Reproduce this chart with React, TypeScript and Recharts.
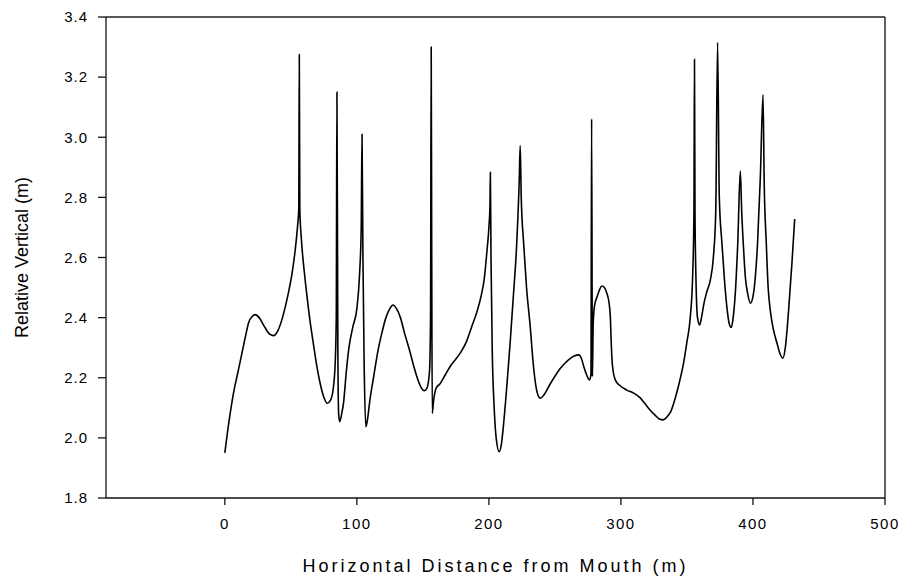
import React from 'react';
import { LineChart, Line, XAxis, YAxis, ReferenceLine, Label } from 'recharts';

// distance from mouth (m) and relative vertical (m)
const distance = [
  0, 3, 6.6, 10, 12.9, 16, 18, 21, 23, 26, 30, 34, 37, 40, 43, 46, 48.5, 51, 53.3, 55,
  56.0, 56.4, 56.8, 58, 60, 62, 64.5, 67, 70, 72.5, 75, 77.5, 80, 82, 83.6, 84.4, 84.9, 85.6, 86.2, 87,
  88.5, 90, 92, 94, 97, 100, 102, 103.3, 103.9, 104.6, 105.5, 106.8, 108, 110, 112.6, 116, 119, 122, 125, 127.3,
  130, 133, 136, 140, 143, 146.5, 149, 151, 153, 155, 155.8, 156.3, 156.7, 157.1, 158, 160, 163, 167, 171, 178,
  183, 187, 191, 194, 196.5, 198.5, 200, 200.8, 201.1, 201.6, 202.5, 204, 205.5, 207.8, 209.5, 211, 213, 216, 218.5, 221,
  223, 223.7, 224.5, 226.3, 228.5, 231.3, 233.5, 235.5, 238, 239, 242, 246.5, 250, 254, 258, 262, 265, 268, 270, 272,
  274, 276, 277.3, 277.8, 278.4, 279, 280, 282, 284, 285.6, 287.5, 289.4, 291, 292, 292.8, 293.6, 295.7, 299, 304.5, 310,
  314.6, 318, 322, 326, 329, 332, 335, 338, 341, 344, 347.5, 350, 352.5, 354.3, 355.3, 355.7, 356.1, 356.8, 358, 359.6,
  361, 363, 365, 367.7, 370, 371.8, 373.2, 374.5, 376.5, 378.5, 380.5, 382, 383.6, 385, 386.6, 388.5, 390.4, 391.5, 393, 394.2,
  396, 398, 400, 401.8, 403.5, 405.6, 407.6, 408.5, 410.1, 411.5, 413.1, 415.5, 418.2, 420.5, 422.7, 424.5, 427, 429.5, 431.6,
];

const vertical = [
  1.95, 2.05, 2.15, 2.22, 2.28, 2.345, 2.383, 2.405, 2.41, 2.40, 2.37, 2.345, 2.34, 2.355, 2.39, 2.44, 2.49, 2.55, 2.625, 2.70,
  2.76, 3.275, 2.76, 2.66, 2.56, 2.48, 2.39, 2.315, 2.23, 2.175, 2.135, 2.115, 2.125, 2.16, 2.25, 2.40, 3.15, 2.30, 2.08, 2.054,
  2.08, 2.12, 2.22, 2.30, 2.37, 2.43, 2.54, 2.70, 3.01, 2.60, 2.25, 2.037, 2.06, 2.13, 2.20, 2.29, 2.35, 2.40, 2.43, 2.442,
  2.43, 2.40, 2.35, 2.29, 2.24, 2.19, 2.165, 2.157, 2.165, 2.22, 2.40, 3.30, 2.60, 2.082, 2.12, 2.165, 2.18, 2.21, 2.24, 2.28,
  2.32, 2.37, 2.42, 2.47, 2.53, 2.62, 2.70, 2.77, 2.883, 2.60, 2.30, 2.10, 2.00, 1.954, 1.98, 2.04, 2.14, 2.31, 2.47, 2.64,
  2.86, 2.972, 2.80, 2.648, 2.50, 2.37, 2.25, 2.175, 2.135, 2.132, 2.145, 2.18, 2.205, 2.231, 2.25, 2.265, 2.273, 2.276, 2.265, 2.235,
  2.21, 2.193, 2.21, 3.061, 2.204, 2.38, 2.44, 2.47, 2.495, 2.505, 2.50, 2.48, 2.45, 2.40, 2.30, 2.24, 2.193, 2.175, 2.159, 2.148,
  2.133, 2.115, 2.093, 2.075, 2.063, 2.06, 2.07, 2.09, 2.13, 2.18, 2.25, 2.32, 2.40, 2.536, 2.75, 3.259, 2.75, 2.536, 2.40, 2.376,
  2.40, 2.45, 2.485, 2.525, 2.60, 2.75, 3.315, 2.80, 2.647, 2.52, 2.425, 2.38, 2.367, 2.40, 2.48, 2.65, 2.888, 2.75, 2.62, 2.536,
  2.48, 2.448, 2.47, 2.536, 2.65, 2.869, 3.141, 2.85, 2.647, 2.50, 2.425, 2.36, 2.315, 2.28, 2.265, 2.30, 2.425, 2.58, 2.728,
];

const xTicks = [0, 100, 200, 300, 400, 500];
const yTicks = [1.8, 2.0, 2.2, 2.4, 2.6, 2.8, 3.0, 3.2, 3.4];

const font = '"Liberation Sans", Arial, sans-serif';

export default function App() {
  const data = distance.map((x, i) => ({ x, y: vertical[i] }));

  return (
    <div style={{ position: 'absolute', left: 0, top: 0, width: 904, height: 583, fontFamily: font }}>
      <LineChart
        width={904}
        height={583}
        data={data}
        margin={{ top: 17, right: 19, left: 46, bottom: 0 }}
      >
        <XAxis
          type="number"
          dataKey="x"
          domain={[-90, 500]}
          ticks={xTicks}
          allowDataOverflow
          height={85}
          tickSize={7}
          tickMargin={13}
          stroke="#111"
          strokeWidth={1.3}
          tick={{ fill: '#000', fontSize: 15, fontFamily: font, letterSpacing: 1.5 }}
        >
          <Label
            value="Horizontal Distance from Mouth (m)"
            position="insideBottom"
            offset={11}
            style={{ fill: '#000', fontSize: 18, fontFamily: font, letterSpacing: 3 }}
          />
        </XAxis>
        <YAxis
          type="number"
          dataKey="y"
          domain={[1.8, 3.4]}
          ticks={yTicks}
          allowDataOverflow
          width={60}
          tickSize={8}
          tickMargin={10}
          stroke="#111"
          strokeWidth={1.3}
          tickFormatter={(v: number) => v.toFixed(1)}
          tick={{ fill: '#000', fontSize: 15, fontFamily: font, letterSpacing: 1 }}
        >
          <Label
            value="Relative Vertical (m)"
            angle={-90}
            position="left"
            offset={24}
            style={{ fill: '#000', fontSize: 18, fontFamily: font, textAnchor: 'middle' }}
          />
        </YAxis>
        <ReferenceLine y={3.4} stroke="#222" strokeWidth={1.4} />
        <ReferenceLine x={500} stroke="#222" strokeWidth={1.4} />
        <Line
          type="monotoneX"
          dataKey="y"
          stroke="#000"
          strokeWidth={1.6}
          dot={false}
          isAnimationActive={false}
        />
      </LineChart>
    </div>
  );
}
